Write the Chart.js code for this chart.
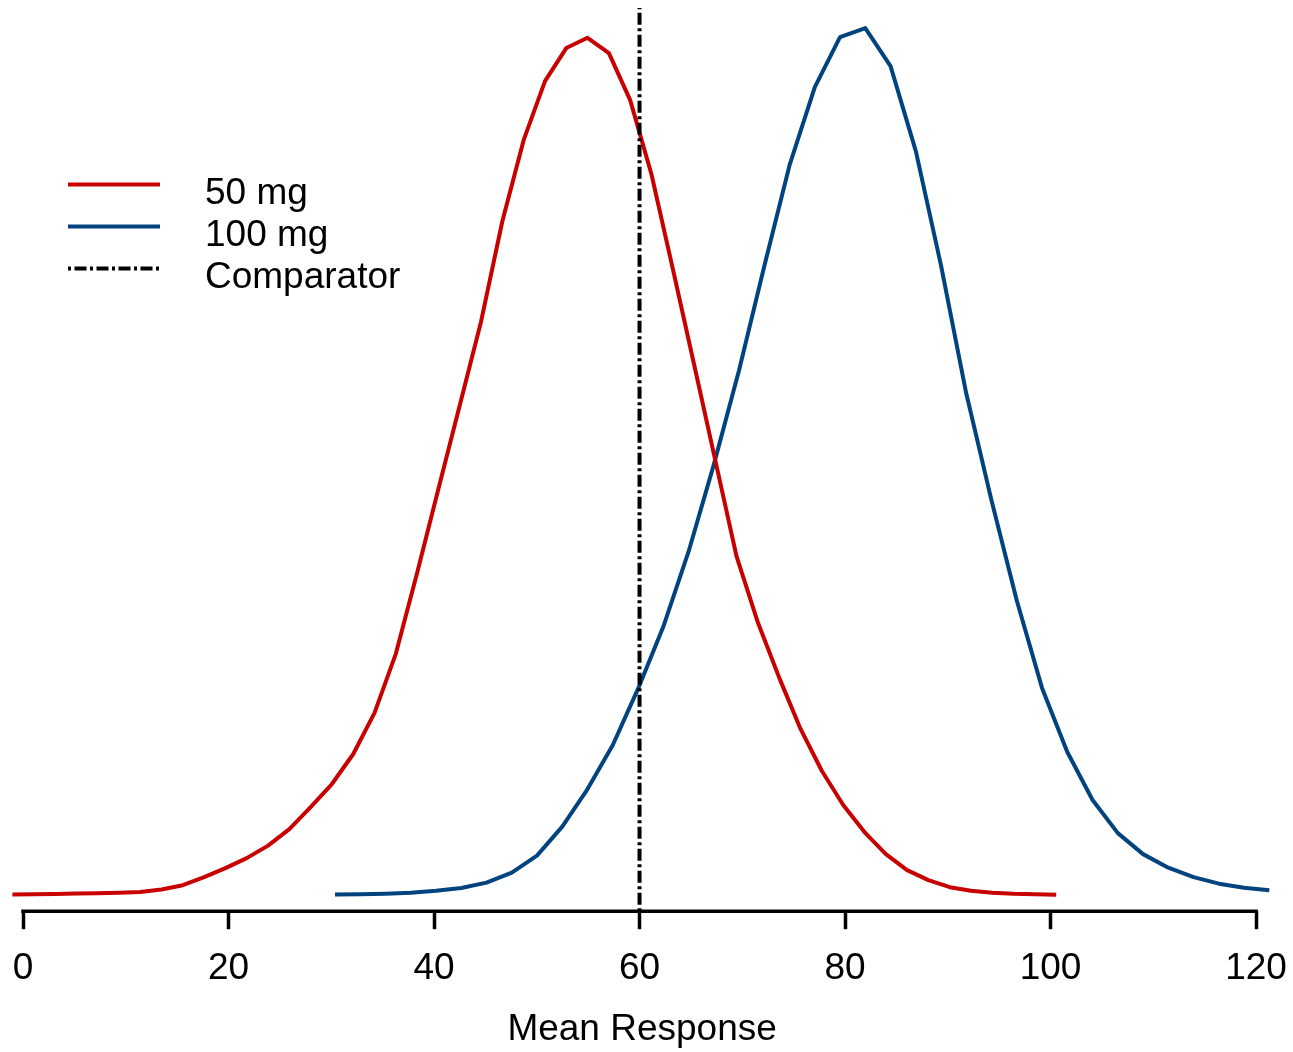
<!DOCTYPE html>
<html>
<head>
<meta charset="utf-8">
<title>Mean Response</title>
<script src="https://cdn.jsdelivr.net/npm/chart.js@4.4.1/dist/chart.umd.min.js"></script>
<style>
  html, body { margin: 0; padding: 0; background: #fff; }
  #wrap { width: 1293px; height: 1052px; position: relative; }
</style>
</head>
<body>
<div id="wrap"><canvas id="densityChart"></canvas></div>
<script>
/* ===============================
   DATA
================================*/
const seriesLabels = ["50 mg", "100 mg", "Comparator"];

// 50 mg curve
const redX = [-1.03, 1.04, 3.11, 5.19, 7.26, 9.33, 11.41, 13.48, 15.55, 17.63,
  19.70, 21.77, 23.85, 25.92, 27.99, 30.06, 32.14, 34.21, 36.28, 38.36,
  40.43, 42.50, 44.58, 46.65, 48.72, 50.80, 52.87, 54.94, 57.02, 59.09,
  61.16, 63.23, 65.31, 67.38, 69.45, 71.53, 73.60, 75.67, 77.75, 79.82,
  81.89, 83.97, 86.04, 88.11, 90.19, 92.26, 94.33, 96.40, 98.48, 100.55];
const redY = [0.05, 0.06, 0.07, 0.09, 0.10, 0.12, 0.15, 0.25, 0.42, 0.74,
  1.10, 1.50, 2.00, 2.66, 3.54, 4.46, 5.66, 7.30, 9.66, 12.90,
  16.26, 19.58, 22.94, 26.94, 30.18, 32.54, 33.86, 34.27, 33.66, 31.78,
  28.82, 25.06, 21.22, 17.38, 13.54, 10.90, 8.70, 6.66, 4.98, 3.62,
  2.54, 1.66, 1.02, 0.62, 0.34, 0.20, 0.12, 0.08, 0.06, 0.04];

// 100 mg curve
const blueX = [30.36, 32.82, 35.28, 37.74, 40.19, 42.65, 45.11, 47.57, 50.02, 52.48,
  54.94, 57.40, 59.85, 62.31, 64.77, 67.23, 69.68, 72.14, 74.60, 77.06,
  79.51, 81.97, 84.43, 86.89, 89.34, 91.80, 94.26, 96.72, 99.17, 101.63,
  104.09, 106.55, 109.00, 111.46, 113.92, 116.38, 118.83, 121.29];
const blueY = [0.05, 0.06, 0.08, 0.12, 0.20, 0.31, 0.52, 0.92, 1.60, 2.76,
  4.26, 6.02, 8.26, 10.74, 13.74, 17.22, 20.98, 25.14, 29.18, 32.30,
  34.30, 34.66, 33.14, 29.74, 25.18, 20.06, 15.78, 11.78, 8.30, 5.74,
  3.82, 2.50, 1.66, 1.12, 0.74, 0.48, 0.32, 0.22];

// comparator mean
const comparatorX = 60;

// x axis ticks
const xTicks = [0, 20, 40, 60, 80, 100, 120];

/* ===============================
   SETTINGS
================================*/
const FONT = '"Liberation Sans", Arial, Helvetica, sans-serif';
const RED = "#C80000";
const BLUE = "#00437F";
const Y_MIN = -0.62;
const Y_MAX = 35.46;

function toPoints(xs, ys) {
    return xs.map((x, i) => ({ x: x, y: ys[i] }));
}

// Axis line only between first and last tick (R style)
const axisLine = {
    id: "axisLine",
    afterDraw(chart) {
        const ctx = chart.ctx;
        const xs = chart.scales.x;
        const y = chart.chartArea.bottom;
        ctx.save();
        ctx.strokeStyle = "#000";
        ctx.lineWidth = 3.5;
        ctx.beginPath();
        ctx.moveTo(xs.getPixelForValue(xTicks[0]) - 1.75, y);
        ctx.lineTo(xs.getPixelForValue(xTicks[xTicks.length - 1]) + 1.75, y);
        ctx.stroke();
        ctx.restore();
    }
};

// Legend in the upper left corner
const cornerLegend = {
    id: "cornerLegend",
    afterDraw(chart) {
        const ctx = chart.ctx;
        ctx.save();
        ctx.font = "37px " + FONT;
        ctx.fillStyle = "#000";
        ctx.textBaseline = "alphabetic";
        chart.data.datasets.forEach((ds, i) => {
            const y = 184.5 + i * 42;
            ctx.strokeStyle = ds.borderColor;
            ctx.lineWidth = ds.borderWidth;
            ctx.setLineDash(ds.borderDash || []);
            ctx.beginPath();
            ctx.moveTo(68, y);
            ctx.lineTo(160, y);
            ctx.stroke();
            ctx.setLineDash([]);
            ctx.fillText(ds.label, 205, y + 19);
        });
        ctx.restore();
    }
};

const ctx = document.getElementById("densityChart");

new Chart(ctx, {
    type: "line",
    data: {
        datasets: [
            {
                label: seriesLabels[0],
                data: toPoints(redX, redY),
                borderColor: RED,
                borderWidth: 4,
                order: 1
            },
            {
                label: seriesLabels[1],
                data: toPoints(blueX, blueY),
                borderColor: BLUE,
                borderWidth: 4,
                order: 2
            },
            {
                label: seriesLabels[2],
                data: [{ x: comparatorX, y: Y_MIN }, { x: comparatorX, y: Y_MAX }],
                borderColor: "#000",
                borderWidth: 4,
                borderDash: [3, 3.5, 12, 3.5],
                order: 0
            }
        ]
    },
    options: {
        responsive: true,
        maintainAspectRatio: false,
        devicePixelRatio: 1,
        animation: false,
        clip: false,
        layout: { padding: { top: 8, left: 7.6, right: 16.4, bottom: 0 } },
        elements: {
            point: { radius: 0 },
            line: { tension: 0, borderCapStyle: "butt", borderJoinStyle: "round" }
        },
        plugins: {
            legend: { display: false },
            tooltip: { enabled: false }
        },
        scales: {
            x: {
                type: "linear",
                min: -1.5,
                max: 122,
                afterBuildTicks: (scale) => {
                    scale.ticks = xTicks.map(v => ({ value: v }));
                },
                afterFit: (scale) => {
                    // keep the plot width set by the layout padding only
                    scale.paddingLeft = 0;
                    scale.paddingRight = 0;
                },
                ticks: {
                    autoSkip: false,
                    maxRotation: 0,
                    color: "#000",
                    padding: 17,
                    font: { family: FONT, size: 37 }
                },
                grid: {
                    drawOnChartArea: false,
                    drawTicks: true,
                    tickLength: 18,
                    tickWidth: 3.5,
                    tickColor: "#000"
                },
                border: { display: false },
                title: {
                    display: true,
                    text: "Mean Response",
                    color: "#000",
                    font: { family: FONT, size: 37 },
                    padding: { top: 0, bottom: 0 }
                }
            },
            y: {
                display: false,
                min: Y_MIN,
                max: Y_MAX
            }
        }
    },
    plugins: [axisLine, cornerLegend]
});
</script>
</body>
</html>
